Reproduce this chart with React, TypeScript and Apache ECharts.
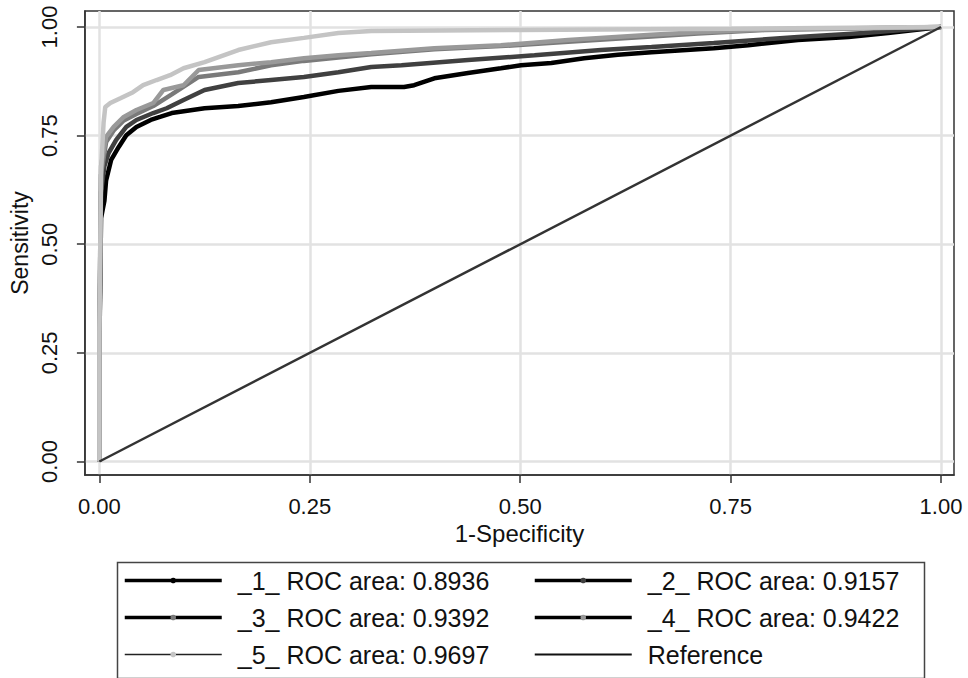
import React, { useEffect, useRef } from "react";
import * as echarts from "echarts";

const tickValues = [0, 0.25, 0.5, 0.75, 1];
const xAxisTitle = "1-Specificity";
const yAxisTitle = "Sensitivity";

const seriesNames = [
  "_1_ ROC area: 0.8936",
  "_2_ ROC area: 0.9157",
  "_3_ ROC area: 0.9392",
  "_4_ ROC area: 0.9422",
  "_5_ ROC area: 0.9697",
  "Reference",
];

const roc1X = [0, 0, 0.002, 0.006, 0.008, 0.014, 0.023, 0.032, 0.044, 0.061, 0.072, 0.086, 0.125, 0.165, 0.204, 0.243, 0.284, 0.323, 0.362, 0.374, 0.398, 0.438, 0.477, 0.501, 0.537, 0.576, 0.616, 0.656, 0.73, 0.771, 0.83, 0.89, 0.937, 1];
const roc1Y = [0, 0.26, 0.56, 0.6, 0.647, 0.694, 0.724, 0.751, 0.77, 0.786, 0.793, 0.802, 0.813, 0.818, 0.827, 0.839, 0.853, 0.862, 0.862, 0.866, 0.882, 0.894, 0.905, 0.912, 0.917, 0.928, 0.936, 0.942, 0.951, 0.958, 0.97, 0.977, 0.986, 1];

const roc2X = [0, 0, 0.002, 0.006, 0.011, 0.02, 0.032, 0.044, 0.064, 0.08, 0.1, 0.125, 0.165, 0.204, 0.243, 0.284, 0.323, 0.359, 0.438, 0.517, 0.596, 0.656, 0.73, 0.83, 0.909, 1];
const roc2Y = [0, 0.26, 0.62, 0.68, 0.71, 0.74, 0.77, 0.786, 0.802, 0.813, 0.832, 0.855, 0.871, 0.878, 0.885, 0.896, 0.908, 0.912, 0.924, 0.935, 0.947, 0.954, 0.963, 0.977, 0.986, 1];

const roc3X = [0, 0, 0.002, 0.008, 0.017, 0.029, 0.044, 0.064, 0.086, 0.118, 0.165, 0.204, 0.243, 0.284, 0.323, 0.398, 0.477, 0.557, 0.656, 0.711, 0.79, 1];
const roc3Y = [0, 0.28, 0.66, 0.735, 0.762, 0.785, 0.8, 0.818, 0.845, 0.885, 0.896, 0.912, 0.922, 0.93, 0.937, 0.949, 0.956, 0.966, 0.978, 0.985, 0.993, 1];

const roc4X = [0, 0, 0.002, 0.008, 0.017, 0.029, 0.044, 0.064, 0.076, 0.1, 0.118, 0.165, 0.204, 0.243, 0.284, 0.323, 0.398, 0.477, 0.557, 0.656, 0.711, 0.79, 1];
const roc4Y = [0, 0.29, 0.68, 0.747, 0.77, 0.793, 0.809, 0.825, 0.855, 0.866, 0.901, 0.912, 0.919, 0.928, 0.935, 0.94, 0.951, 0.958, 0.97, 0.982, 0.988, 0.994, 1];

const roc5X = [0, 0, 0.002, 0.005, 0.007, 0.013, 0.025, 0.04, 0.052, 0.068, 0.084, 0.1, 0.125, 0.165, 0.204, 0.243, 0.284, 0.323, 0.5, 0.75, 1];
const roc5Y = [0, 0.3, 0.67, 0.78, 0.816, 0.825, 0.836, 0.85, 0.866, 0.878, 0.889, 0.905, 0.919, 0.947, 0.965, 0.975, 0.986, 0.991, 0.993, 0.996, 1];

const refX = [0, 1];
const refY = [0, 1];

const curveColors = ["#000000", "#404040", "#7a7a7a", "#999999", "#c4c4c4"];

const pairs = (xs: number[], ys: number[]) => xs.map((x, i) => [x, ys[i]]);

export default function App() {
  const ref = useRef<HTMLDivElement>(null);
  useEffect(() => {
    if (!ref.current) return;
    const chart = echarts.init(ref.current, null, { renderer: "svg" });
    const font = "'Liberation Sans', Arial, sans-serif";
    const curves = [
      pairs(roc1X, roc1Y),
      pairs(roc2X, roc2Y),
      pairs(roc3X, roc3Y),
      pairs(roc4X, roc4Y),
      pairs(roc5X, roc5Y),
    ];
    const series: any[] = curves.map((d, i) => ({
      name: seriesNames[i],
      type: "line",
      data: d,
      symbol: "circle",
      symbolSize: 6,
      showSymbol: false,
      itemStyle: { color: curveColors[i] },
      lineStyle: { color: curveColors[i], width: 4.5 },
      z: 2 + i,
    }));
    series.push({
      name: seriesNames[5],
      type: "line",
      data: pairs(refX, refY),
      symbol: "none",
      showSymbol: false,
      itemStyle: { color: "#333333" },
      lineStyle: { color: "#333333", width: 2.5 },
      z: 10,
    });
    const legendText = { fontFamily: font, fontSize: 25, color: "#111", padding: [0, 0, 0, 11] };
    const legendItem = (i: number) => {
      if (i === 5) {
        return { name: seriesNames[i], lineStyle: { color: "#111", width: 2 }, itemStyle: { color: "rgba(0,0,0,0)", borderWidth: 0 } };
      }
      if (i === 4) {
        return { name: seriesNames[i], lineStyle: { color: "#222", width: 1.5 }, itemStyle: { color: curveColors[i], borderWidth: 0 } };
      }
      return { name: seriesNames[i], lineStyle: { color: "#000", width: 3.5 }, itemStyle: { color: curveColors[i], borderWidth: 0 } };
    };
    const legendCommon = {
      orient: "vertical",
      top: 568,
      itemWidth: 97,
      itemHeight: 7,
      itemGap: 12,
      textStyle: legendText,
      selectedMode: false,
      padding: 0,
    };
    chart.setOption({
      animation: false,
      backgroundColor: "#ffffff",
      grid: {
        left: 83,
        top: 11,
        width: 871,
        height: 464,
        show: true,
        borderColor: "#333",
        borderWidth: 1.5,
        backgroundColor: "#ffffff",
      },
      legend: [
        { ...legendCommon, left: 123, data: [0, 2, 4].map(legendItem) },
        { ...legendCommon, left: 533, data: [1, 3, 5].map(legendItem) },
      ],
      graphic: [
        {
          type: "rect",
          left: 115,
          top: 560,
          shape: { width: 807, height: 116 },
          style: { fill: "none", stroke: "#444", lineWidth: 1.5 },
          silent: true,
        },
      ],
      xAxis: {
        type: "value",
        min: -0.01719,
        max: 1.01541,
        name: xAxisTitle,
        nameLocation: "middle",
        nameGap: 44,
        nameTextStyle: { fontFamily: font, fontSize: 24, color: "#111" },
        axisLine: { show: true, onZero: false, lineStyle: { color: "#333", width: 1.5 } },
        axisTick: { show: true, length: 8, customValues: tickValues, lineStyle: { color: "#333", width: 1.5 } },
        axisLabel: {
          customValues: tickValues,
          formatter: (v: number) => v.toFixed(2),
          fontFamily: font,
          fontSize: 22,
          color: "#111",
          margin: 20,
        },
        splitLine: { show: true, lineStyle: { color: "#e2e2e2", width: 2.5 } },
      },
      yAxis: {
        type: "value",
        min: -0.03107,
        max: 1.03682,
        name: yAxisTitle,
        nameLocation: "middle",
        nameGap: 45,
        nameTextStyle: { fontFamily: font, fontSize: 23, color: "#111" },
        axisLine: { show: true, onZero: false, lineStyle: { color: "#333", width: 1.5 } },
        axisTick: { show: true, length: 8, customValues: tickValues, lineStyle: { color: "#333", width: 1.5 } },
        axisLabel: {
          customValues: tickValues,
          formatter: (v: number) => v.toFixed(2),
          fontFamily: font,
          fontSize: 22,
          color: "#111",
          rotate: 90,
          margin: 24,
        },
        splitLine: { show: true, lineStyle: { color: "#e2e2e2", width: 2.5 } },
      },
      series,
    });
    return () => chart.dispose();
  }, []);
  return <div ref={ref} style={{ width: 968, height: 678, position: "absolute", left: 0, top: 0 }} />;
}
